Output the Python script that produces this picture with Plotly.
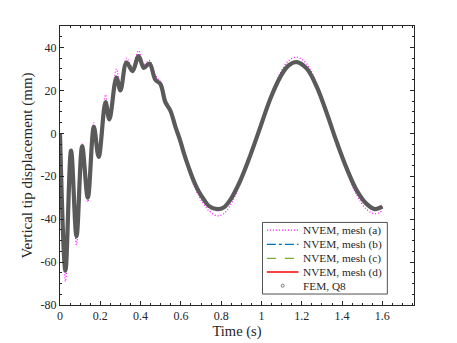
import plotly.graph_objects as go

# time instants (s)
time = [0, 0.027, 0.055, 0.082, 0.11, 0.138, 0.168, 0.192, 0.226, 0.245, 0.28, 0.30,
        0.33, 0.36, 0.39, 0.416, 0.444, 0.473, 0.498, 0.523, 0.548, 0.573, 0.597,
        0.614, 0.639, 0.663, 0.688, 0.713, 0.738, 0.78, 0.812, 0.845, 0.895, 0.944,
        0.994, 1.044, 1.093, 1.134, 1.176, 1.225, 1.275, 1.325, 1.374, 1.424, 1.474,
        1.523, 1.564, 1.6]

# vertical tip displacement (mm)
fem_q8 = [0, -64, -8, -48, -6, -30, 3, -11, 14.5, 6.5, 26, 20,
          33, 29, 36, 30.5, 32.5, 25, 23, 14.5, 10.5, 3, -3.5,
          -9, -16, -22, -27, -30.7, -33.8, -35.3, -34.6, -31, -22, -10.4,
          2.8, 16.1, 26.2, 31.6, 33.2, 30.1, 21.5, 9.1, -4.2, -16.6, -26.8,
          -33, -35.3, -34.2]
mesh_a = [0, -69, -7.5, -52, -5, -32, 5, -11, 18, 7, 30, 21,
          35, 31, 38.5, 32, 34, 27, 24, 16, 11.5, 3.5, -3.5,
          -10, -17, -24, -29, -33, -36, -38.5, -37.5, -33.5, -23.5, -11,
          3, 17, 28, 33.8, 35.5, 32.3, 23, 10, -4.5, -18, -29,
          -35.5, -37.5, -36]
mesh_b = [0, -64.5, -8, -48.5, -6, -30.3, 3.3, -11, 15, 6.6, 26.5, 20.2,
          33.4, 29.2, 36.4, 30.7, 32.7, 25.2, 23.2, 14.7, 10.6, 3, -3.5,
          -9.1, -16.1, -22.3, -27.3, -31, -34.2, -35.8, -35, -31.3, -22.2, -10.5,
          2.8, 16.3, 26.5, 32, 33.6, 30.4, 21.7, 9.2, -4.2, -16.8, -27.1,
          -33.4, -35.7, -34.5]
mesh_c = [0, -64.2, -8, -48.2, -6, -30.1, 3.1, -11, 14.7, 6.5, 26.2, 20.1,
          33.2, 29.1, 36.2, 30.6, 32.6, 25.1, 23.1, 14.6, 10.5, 3, -3.5,
          -9, -16, -22.1, -27.1, -30.8, -33.9, -35.5, -34.8, -31.1, -22.1, -10.4,
          2.8, 16.2, 26.3, 31.8, 33.4, 30.2, 21.6, 9.1, -4.2, -16.7, -26.9,
          -33.2, -35.5, -34.3]
mesh_d = fem_q8

x_ticks = [0, 0.2, 0.4, 0.6, 0.8, 1, 1.2, 1.4, 1.6]
x_labels = ["0", "0.2", "0.4", "0.6", "0.8", "1", "1.2", "1.4", "1.6"]
y_ticks = [-80, -60, -40, -20, 0, 20, 40]
y_labels = ["-80", "-60", "-40", "-20", "0", "20", "40"]
legend_names = ["NVEM, mesh (a)", "NVEM, mesh (b)", "NVEM, mesh (c)", "NVEM, mesh (d)", "FEM, Q8"]

serif = "Liberation Serif"
ink = "#262626"

# the page body adds an 8px offset; work in window pixels and shift
OFF = 8
W, H = 457 - OFF, 343 - OFF
L, R, T, B = 59.5 - OFF, 414 - OFF, 25.5 - OFF, 305 - OFF


def px(x):
    return (x - OFF - L) / (R - L)


def py(y):
    return (B - (y - OFF)) / (B - T)


styles = [
    dict(color="#ff00ff", width=1.2, dash="1px,2px"),
    dict(color="#0072bd", width=1.2, dash="dashdot"),
    dict(color="#77ac30", width=1.2, dash="dash"),
    dict(color="#ff0000", width=1.4, dash="solid"),
]

fig = go.Figure()
for ys, st, nm in zip([mesh_a, mesh_b, mesh_c, mesh_d], styles, legend_names):
    fig.add_trace(go.Scatter(x=time, y=ys, mode="lines", name=nm, showlegend=False,
                             line=dict(shape="spline", **st)))
# FEM drawn as a thick grey band of closely spaced markers
fig.add_trace(go.Scatter(x=time, y=fem_q8, mode="lines", name=legend_names[4], showlegend=False,
                         line=dict(color="#5a5a5a", width=4.2, shape="spline")))

# hand-made compact legend (window pixel positions)
shapes = [dict(type="rect", xref="paper", yref="paper", x0=px(262.3), x1=px(387.3),
               y0=py(294), y1=py(222.3), line=dict(color=ink, width=0.8), fillcolor="white",
               layer="above")]
annotations = []
rows = [230, 244.2, 258.2, 272, 285.7]
for i, nm in enumerate(legend_names):
    yy = py(rows[i])
    if i < 4:
        shapes.append(dict(type="line", xref="paper", yref="paper", x0=px(266.7), x1=px(298.3),
                           y0=yy, y1=yy, line=styles[i], layer="above"))
    else:
        shapes.append(dict(type="circle", xref="paper", yref="paper",
                           x0=px(281), x1=px(284), y0=py(287.2), y1=py(284.2),
                           line=dict(color="#5a5a5a", width=0.8), layer="above"))
    annotations.append(dict(xref="paper", yref="paper", x=px(300.5), y=yy, text=nm,
                            xanchor="left", yanchor="middle", showarrow=False,
                            font=dict(family=serif, size=11.3, color=ink)))

axis_common = dict(
    showline=True, linecolor=ink, linewidth=1, mirror="allticks",
    ticks="inside", ticklen=4, tickcolor=ink, showgrid=False, zeroline=False,
    automargin=False, tickfont=dict(family=serif, size=12, color=ink),
)

fig.update_layout(
    width=W, height=H,
    margin=dict(l=L, r=W - R, t=T, b=H - B),
    paper_bgcolor="white", plot_bgcolor="white",
    font=dict(family=serif, color=ink),
    showlegend=False,
    shapes=shapes, annotations=annotations,
    xaxis=dict(range=[0, 1.757], tickmode="array", tickvals=x_ticks, ticktext=x_labels,
               title=dict(text="Time (s)", font=dict(family=serif, size=14.5), standoff=3),
               minor=dict(tickmode="linear", tick0=0, dtick=0.05, ticks="inside",
                          ticklen=2, tickcolor=ink),
               **axis_common),
    yaxis=dict(range=[-80, 50], tickmode="array", tickvals=y_ticks, ticktext=y_labels,
               title=dict(text="Vertical tip displacement (mm)", font=dict(family=serif, size=15),
                          standoff=4),
               minor=dict(tickmode="linear", tick0=0, dtick=5, ticks="inside",
                          ticklen=2, tickcolor=ink),
               **axis_common),
)

fig.write_html("out.html")
